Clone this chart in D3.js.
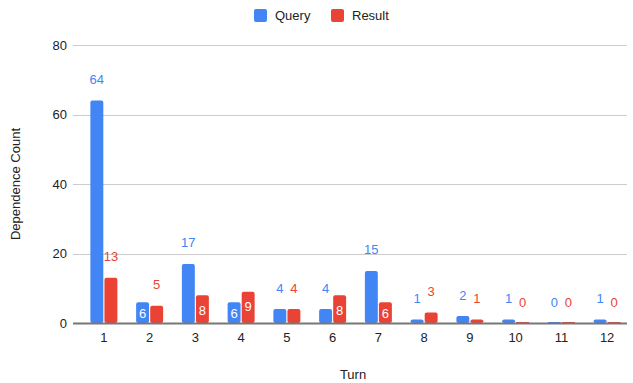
<!DOCTYPE html>
<html>
<head>
<meta charset="utf-8">
<script src="https://cdn.jsdelivr.net/npm/d3@7"></script>
<style>
  html, body { margin: 0; padding: 0; background: #fff; }
  svg { display: block; font-family: Arial, "Liberation Sans", sans-serif; }
</style>
</head>
<body>
<svg id="chart" width="633" height="383"></svg>
<script>
// Dependence counts per turn
const turns = ["1","2","3","4","5","6","7","8","9","10","11","12"];
const queryValues = [64, 6, 17, 6, 4, 4, 15, 1, 2, 1, 0, 1];
const resultValues = [13, 5, 8, 9, 4, 8, 6, 3, 1, 0, 0, 0];
const seriesNames = ["Query", "Result"];
const seriesColors = ["#4285F4", "#EA4335"];
const yTicks = [0, 20, 40, 60, 80];

const series = [queryValues, resultValues];
const rows = turns.map((t, i) => ({ turn: t, values: series.map(s => s[i]) }));

const svg = d3.select("#chart");
const W = 633, H = 383;
const plot = { left: 73, right: 627, top: 45, bottom: 323 };

const x0 = d3.scaleBand().domain(turns).range([81, 630]).paddingInner(0.41).paddingOuter(0.205);
const x1 = d3.scaleBand().domain(d3.range(series.length)).range([0, x0.bandwidth()]).paddingInner(0.08);
const y = d3.scaleLinear().domain([0, 80]).range([plot.bottom, plot.top]);

// gridlines
svg.append("g").selectAll("line").data(yTicks.filter(d => d > 0)).join("line")
  .attr("x1", plot.left).attr("x2", plot.right)
  .attr("y1", d => Math.round(y(d)) + 0.5).attr("y2", d => Math.round(y(d)) + 0.5)
  .attr("stroke", "#cccccc").attr("stroke-width", 1);

// y axis tick labels
const yAxis = d3.axisLeft(y).tickValues(yTicks).tickSize(0).tickPadding(6);
const gy = svg.append("g").attr("transform", `translate(${plot.left},0)`).call(yAxis);
gy.select(".domain").remove();
gy.selectAll("text").attr("font-size", 13).attr("fill", "#222").attr("font-family", "Arial, 'Liberation Sans', sans-serif");

// bars
const groups = svg.append("g").selectAll("g").data(rows).join("g")
  .attr("transform", d => `translate(${x0(d.turn)},0)`);

groups.selectAll("rect").data(d => d.values.map((v, k) => ({ v, k }))).join("rect")
  .attr("x", d => x1(d.k))
  .attr("width", x1.bandwidth())
  .attr("y", d => Math.min(y(d.v), plot.bottom - 1))
  .attr("height", d => Math.max(plot.bottom - y(d.v), 1))
  .attr("rx", d => d.v > 0 ? 2 : 0)
  .attr("fill", d => seriesColors[d.k]);

// value labels: mid-size bars carry their label inside, others above
const fitsInside = v => v >= 6 && v < 10;
groups.selectAll("text").data(d => d.values.map((v, k) => ({ v, k }))).join("text")
  .attr("x", d => x1(d.k) + x1.bandwidth() / 2)
  .attr("y", d => fitsInside(d.v)
      ? Math.min(y(d.v) + 15, plot.bottom - 10)
      : y(d.v) - 21)
  .attr("dy", "0.35em")
  .attr("text-anchor", "middle")
  .attr("font-size", 13)
  .attr("fill", d => fitsInside(d.v) ? "#ffffff" : seriesColors[d.k])
  .text(d => d.v);

// baseline
svg.append("line")
  .attr("x1", plot.left).attr("x2", plot.right)
  .attr("y1", plot.bottom + 0.5).attr("y2", plot.bottom + 0.5)
  .attr("stroke", "#777").attr("stroke-width", 2);

// x axis labels
const xAxis = d3.axisBottom(x0).tickSize(0).tickPadding(10);
const gx = svg.append("g").attr("transform", `translate(0,${plot.bottom})`).call(xAxis);
gx.select(".domain").remove();
gx.selectAll("text").attr("font-size", 13).attr("fill", "#222").attr("font-family", "Arial, 'Liberation Sans', sans-serif");

// axis titles
svg.append("text").attr("x", 353).attr("y", 379).attr("text-anchor", "middle")
  .attr("font-size", 13).attr("fill", "#222").text("Turn");
svg.append("text").attr("transform", "translate(20,184) rotate(-90)")
  .attr("text-anchor", "middle").attr("font-size", 13).attr("fill", "#222").text("Dependence Count");

// legend
const legendPos = [254, 331];
const lg = svg.append("g").selectAll("g").data(seriesNames).join("g")
  .attr("transform", (d, i) => `translate(${legendPos[i]},9)`);
lg.append("rect").attr("width", 13).attr("height", 13).attr("rx", 2)
  .attr("fill", (d, i) => seriesColors[i]);
lg.append("text").attr("x", 21).attr("y", 6.5).attr("dy", "0.35em")
  .attr("font-size", 13).attr("fill", "#222").text(d => d);
</script>
</body>
</html>
